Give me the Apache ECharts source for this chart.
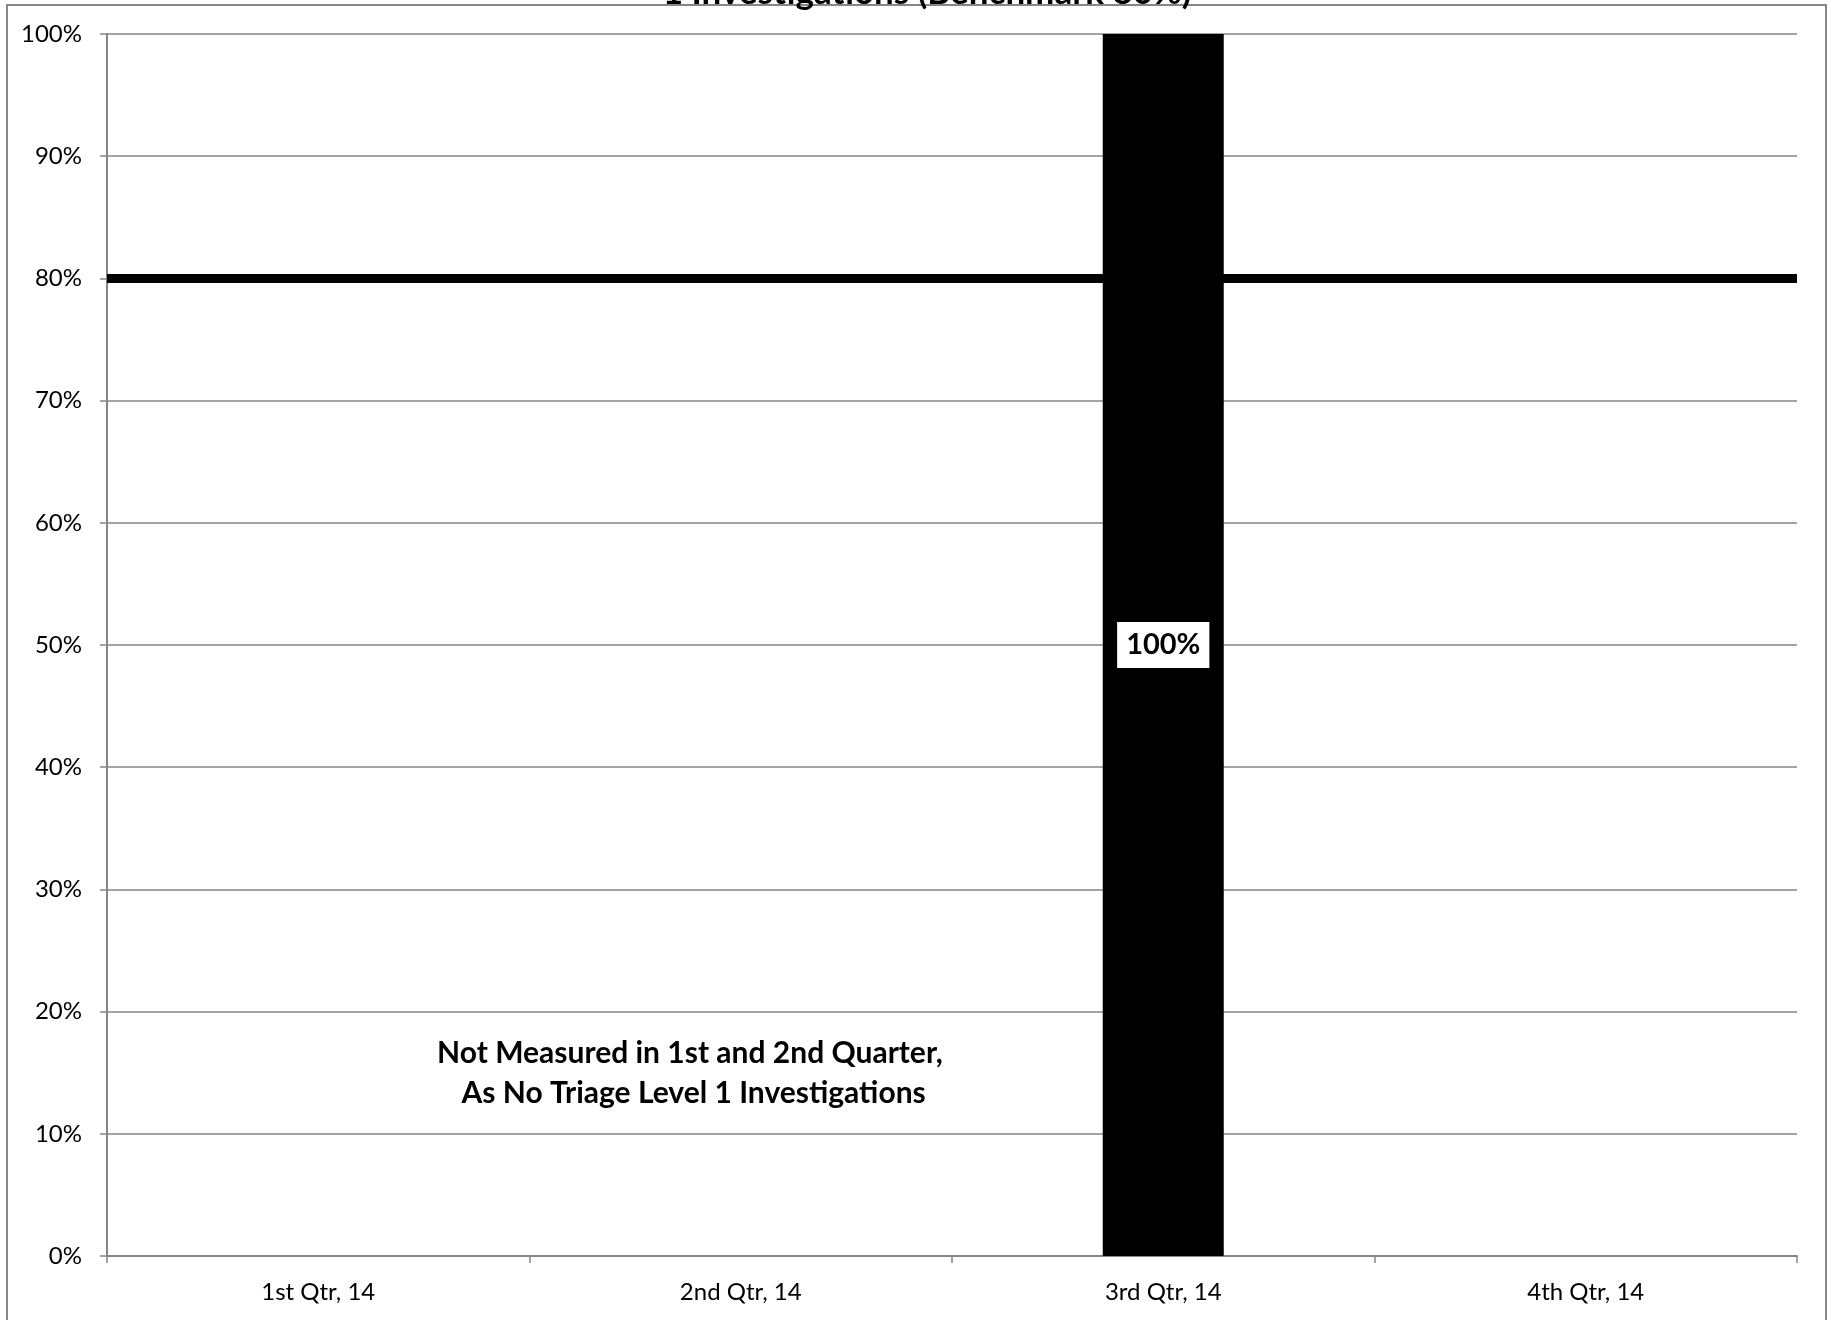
<!DOCTYPE html>
<html>
<head>
<meta charset="utf-8">
<script src="https://cdn.jsdelivr.net/npm/echarts@6/dist/echarts.min.js"></script>
<style>
html,body{margin:0;padding:0;background:#fff;}
#chart{width:1834px;height:1320px;}
</style>
</head>
<body>
<div id="chart"></div>
<script>
const titleText = '1 Investigations (Benchmark 80%)';
const categories = ['1st Qtr, 14', '2nd Qtr, 14', '3rd Qtr, 14', '4th Qtr, 14'];
const values = [null, null, 1.0, null];
const benchmark = 0.8;
const yTicks = [0, 0.1, 0.2, 0.3, 0.4, 0.5, 0.6, 0.7, 0.8, 0.9, 1.0];
const noteLines = ['Not Measured in 1st and 2nd Quarter,', ' As No Triage Level 1 Investigations'];

const FONT = 'Lato, "Open Sans", sans-serif';
const chart = echarts.init(document.getElementById('chart'), null, {renderer: 'canvas'});
const option = {
  backgroundColor: '#ffffff',
  animation: false,
  grid: {left: 107, right: 37, top: 34, bottom: 64, containLabel: false},
  xAxis: {
    type: 'category',
    data: categories,
    boundaryGap: true,
    axisLine: {show: true, lineStyle: {color: '#868686', width: 2}},
    axisTick: {show: true, interval: 0, length: 7, lineStyle: {color: '#868686', width: 1.5}},
    axisLabel: {margin: 24, fontSize: 24, fontFamily: FONT, color: '#000', interval: 0},
    splitLine: {show: false}
  },
  yAxis: {
    type: 'value',
    min: yTicks[0],
    max: yTicks[yTicks.length - 1],
    interval: 0.1,
    axisLine: {show: true, lineStyle: {color: '#868686', width: 2}},
    axisTick: {show: true, length: 7, lineStyle: {color: '#868686', width: 1.5}},
    axisLabel: {margin: 25, fontSize: 24, fontFamily: FONT, color: '#000',
      formatter: v => Math.round(v * 100) + '%'},
    splitLine: {show: true, lineStyle: {color: '#868686', width: 1.5}}
  },
  series: [{
    type: 'bar',
    data: values,
    barWidth: 121,
    itemStyle: {color: '#000000'},
    label: {
      show: true,
      position: 'inside',
      formatter: p => Math.round(p.value * 100) + '%',
      fontFamily: FONT,
      fontWeight: 'bold',
      fontSize: 29,
      color: '#000',
      backgroundColor: '#ffffff',
      padding: [9, 9, 8, 9]
    },
    markLine: {
      silent: true,
      symbol: ['none', 'none'],
      label: {show: false},
      lineStyle: {color: '#000', width: 9, type: 'solid'},
      data: [{yAxis: benchmark}],
      z: 1
    },
    z: 3
  }],
  graphic: [
    {type: 'rect', shape: {x: 7, y: 5, width: 1819, height: 1330}, style: {fill: 'none', stroke: '#868686', lineWidth: 2}, z: 0, silent: true},
    {type: 'text', x: 927, y: -7, style: {text: titleText, font: 'bold 35px ' + FONT, fill: '#000', textAlign: 'center', textVerticalAlign: 'middle'}, z: 10},
    {type: 'text', x: 690, y: 1073, style: {text: noteLines.join('\n'), font: 'bold 30px ' + FONT, lineHeight: 40, fill: '#000', textAlign: 'center', textVerticalAlign: 'middle'}, z: 10}
  ]
};
chart.setOption(option);
</script>
</body>
</html>
